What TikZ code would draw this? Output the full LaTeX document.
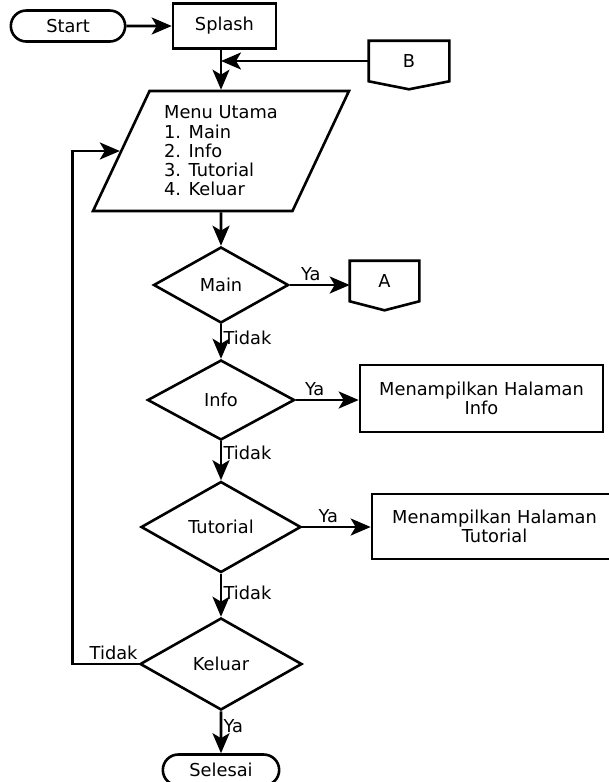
\documentclass[tikz,border=0pt]{standalone}
\usepackage{fontspec}
\setmainfont{DejaVu Sans}
\usetikzlibrary{shapes.geometric,shapes.misc,arrows.meta}

\begin{document}
\begin{tikzpicture}[x=1pt,y=-1pt,line width=2.6pt,
  font=\fontsize{17.8pt}{19.2pt}\selectfont,
  terminal/.style={draw, rounded rectangle, minimum width=121pt, minimum height=31pt},
  process/.style={draw, rectangle, align=center},
  decision/.style={draw, diamond, inner sep=0pt},
  menubox/.style={draw, trapezium, trapezium left angle=63.8, trapezium right angle=116.2, trapezium stretches=true, align=left},
  offpage/.style={minimum height=38pt},
  arr/.style={-{Stealth[length=20pt,width=17pt,inset=5pt]}}]
\useasboundingbox (0,0) rectangle (609,782);
\clip (0,0) rectangle (609,782);

\node[terminal] (start) at (68,26) {Start};
\node[process, minimum width=103pt, minimum height=45pt] (splash) at (224.5,26) {Splash};
\node[offpage, minimum width=78pt] (b) at (409,61) {B};
\node[menubox, minimum width=256pt, minimum height=120pt] (menu) at (221,151) {Menu Utama\\1. Main\\2. Info\\3. Tutorial\\4. Keluar};
\node[decision, minimum width=135pt, minimum height=76pt] (main) at (221,285) {Main};
\node[offpage, minimum width=67pt] (a) at (384.5,281) {A};
\node[decision, minimum width=147pt, minimum height=80pt] (info) at (221,400) {Info};
\node[process, minimum width=243pt, minimum height=67pt] (infopage) at (481.5,398.5) {Menampilkan Halaman\\Info};
\node[decision, minimum width=160pt, minimum height=91pt] (tutorial) at (221,527) {Tutorial};
\node[process, minimum width=245pt, minimum height=65pt] (tutpage) at (494.5,526.5) {Menampilkan Halaman\\Tutorial};
\node[decision, minimum width=162pt, minimum height=92pt] (keluar) at (221,664) {Keluar};
\node[terminal, minimum width=123pt] (selesai) at (221,770) {Selesai};

% penghubung B dan A
\draw (b.south west) -- (b.north west) -- (b.north east) -- (b.south east) -- ([yshift=-8pt]b.south) -- cycle;
\draw (a.south west) -- (a.north west) -- (a.north east) -- (a.south east) -- ([yshift=-9pt]a.south) -- cycle;

\draw[arr] (start) -- (splash);
\draw[arr] (splash.south -| menu.north) -- (menu.north);
\draw[arr] (b.west) -- (b.west -| menu.north);
\draw[arr] (menu.south) -- (main.north);

\draw[arr] (main.east) -- node[above,pos=0.35] {Ya} (main.east -| a.west);
\draw[arr] (main) -- node[right,pos=0.4,xshift=-2pt] {Tidak} (info);
\draw[arr] (info.east) -- node[above,pos=0.3] {Ya} (info.east -| infopage.west);
\draw[arr] (info) -- node[right,pos=0.3,xshift=-2pt] {Tidak} (tutorial);
\draw[arr] (tutorial.east) -- node[above,pos=0.38] {Ya} (tutorial.east -| tutpage.west);
\draw[arr] (tutorial) -- node[right,pos=0.45,xshift=-2pt] {Tidak} (keluar);
\draw[arr] (keluar) -- node[right,pos=0.36,xshift=-2pt] {Ya} (selesai);

\draw[arr] (keluar.west) -- node[above,pos=0.38] {Tidak} ++(-66,0) |- (menu.west);
\end{tikzpicture}
\end{document}
